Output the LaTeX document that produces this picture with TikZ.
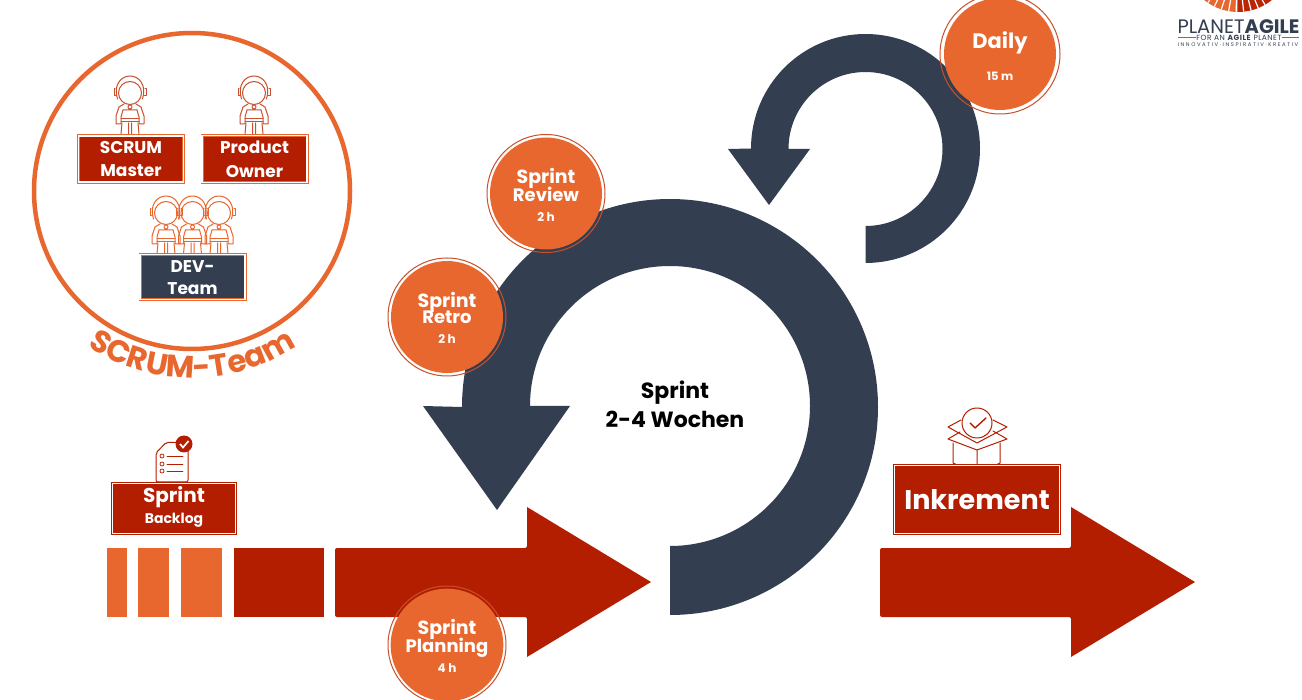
\documentclass[tikz,border=0pt]{standalone}
\usepackage{fontspec}
\setmainfont{Poppins}
\usepackage{xcolor}
\usetikzlibrary{decorations.text, shapes.geometric}
\definecolor{navy}{HTML}{333F50}
\definecolor{sunset}{HTML}{E8672F}
\definecolor{rust}{HTML}{B41E00}
\definecolor{clay}{HTML}{C9502F}
\newcommand{\fsize}[1]{\fontsize{#1}{#1}\selectfont\bfseries}
\newcommand{\lift}[1]{\rule{0pt}{#1pt}}
\tikzstyle{ceremony} = [circle, minimum size=112pt, inner sep=0pt, fill=sunset, text=white, text centered]
\tikzstyle{ceremonyring} = [draw=clay, line width=1pt]
\tikzstyle{rolebox} = [rectangle, minimum width=105pt, minimum height=43pt, inner sep=0pt, draw=sunset, double=white, double distance=1.2pt, line width=0.9pt, fill=rust, text=white, text centered]
\tikzstyle{chevron} = [fill=rust, rounded corners=2pt]
\tikzstyle{iconline} = [draw=rust, line width=1pt, line join=round, line cap=round]
\tikzset{astronaut/.pic={
  \draw (0,0) circle (11.5);
  \draw (-12.5,6) .. controls (-17,-8) and (-9,-17) .. (0,-17) .. controls (9,-17) and (17,-8) .. (12.5,6);
  \draw (-15,-4) -- (-16,-4) -- (-16,3) -- (-14,3);
  \draw (15,-4) -- (16,-4) -- (16,3) -- (14,3);
  \draw (-6,11) -- (-11,14) -- (-14,23) -- (-14,31) -- (-9,31) -- (-9,24) -- (-7,17);
  \draw (6,11) -- (11,14) -- (14,23) -- (14,31) -- (9,31) -- (9,24) -- (7,17);
  \draw (-9,26) -- (9,26) (-9,29) -- (9,29);
  \draw (-7,17) -- (7,17) (0,14) circle (2);
  \draw (-8,30) -- (-9,41) (8,30) -- (9,41) (-1.5,30) -- (-1.5,41) (1.5,30) -- (1.5,41);
}}
\begin{document}
\begin{tikzpicture}[x=1pt, y=1pt, yscale=-1]

\clip (0,0) rectangle (1302,700);
\fill[white] (0,0) rectangle (1302,700);

% sprint cycle
\fill[navy] (670,615) arc (90:-180:208) -- (423,406) -- (497,510) -- (570,406) -- (530,406) arc (-180:90:140) -- cycle;
\fill[navy] (865.5,263) arc (90:-180:114.5) -- (728,149) -- (769,205) -- (810,149) -- (788.5,149) arc (-180:90:77) -- cycle;
\node at (675,404) (sprint) [text=black, align=center, font=\fsize{22}, inner sep=0pt] {Sprint\\[6pt]2-4 Wochen};

% arrows
\fill[chevron] (335,548) -- (527,548) [sharp corners] -- (527,507) -- (651,582) -- (527,657) [rounded corners=2pt] -- (527,617) -- (335,617) -- cycle;
\fill[chevron] (880,548) -- (1071,548) [sharp corners] -- (1071,507) -- (1195,582) -- (1071,657) [rounded corners=2pt] -- (1071,617) -- (880,617) -- cycle;

\fill[sunset] (107,548) rectangle (127,617);
\fill[sunset] (138,548) rectangle (169,617);
\fill[sunset] (181,548) rectangle (222,617);
\fill[rust] (234,548) rectangle (324,617);

% ceremonies
\node at (546,193.5) (review) [ceremony] {\begin{tabular}{c} \lift{21}\fsize{19}Sprint \\[-1pt] \fsize{18}Review \\[7pt] \fsize{12}2 h \end{tabular}};
\node at (447,317) (retro) [ceremony] {\begin{tabular}{c} \lift{20}\fsize{19}Sprint \\[-1pt] \fsize{18}Retro \\[7pt] \fsize{12}2 h \end{tabular}};
\node at (447,645) (planning) [ceremony] {\begin{tabular}{c} \lift{20}\fsize{19}Sprint \\[-1pt] \fsize{18}Planning \\[7pt] \fsize{12}4 h \end{tabular}};
\node at (1000,54) (daily) [ceremony] {\begin{tabular}{c} \lift{24}\fsize{21}Daily \\[20pt] \fsize{11.5}15 m \end{tabular}};
\draw[ceremonyring] (review.center) circle (59);
\draw[ceremonyring] (retro.center) circle (59);
\draw[ceremonyring] (planning.center) circle (59);
\draw[ceremonyring] (daily.center) circle (60);

% team
\draw[sunset, line width=4.5pt] (192,191) circle (158);
\path[decorate, decoration={text along path, text align=center, text={|\fsize{31}\color{sunset}|SCRUM-Team}}] (192,191) ++(146:187) arc (146:34:187);

\pic[iconline, draw=clay, transform shape] at (130,93) {astronaut};
\pic[iconline, draw=clay, transform shape] at (254,93) {astronaut};
\pic[iconline, draw=sunset, transform shape] at (166,213) {astronaut};
\pic[iconline, draw=sunset, transform shape] at (192.5,213) {astronaut};
\pic[iconline, draw=sunset, transform shape] at (219,213) {astronaut};

\node at (131,159) (master) [rolebox, font=\fsize{17}] {\begin{tabular}{c} \lift{18}SCRUM \\[6pt] Master \end{tabular}};
\node at (254.5,159) (owner) [rolebox, font=\fsize{17}] {\begin{tabular}{c} \lift{18}Product \\[6pt] Owner \end{tabular}};
\node at (192.5,277) (dev) [rolebox, fill=navy, font=\fsize{17}] {\begin{tabular}{c} \lift{18}DEV- \\[5pt] Team \end{tabular}};

% backlog
\draw[iconline, fill=white] (156,482) [rounded corners=2pt] -- (156,453) -- (166,442.5) -- (188,442.5) -- (188,482) -- cycle;
\foreach \y in {456,464,471} {
  \draw[iconline, line width=0.7pt] (162,\y) circle (2);
  \draw[iconline, line width=0.7pt] (167,\y) -- (183,\y);
}
\fill[rust] (184,444) circle (8.5);
\draw[white, line width=1.7pt] (180,444) -- (183,447.5) -- (188.5,441);
\node at (174,508.5) (backlog) [rolebox, draw=rust, minimum width=123pt, minimum height=50pt] {\begin{tabular}{c} \fsize{20}Sprint \\[7pt] \fsize{14}Backlog \\[4pt] \end{tabular}};

% increment
\draw[iconline] (953,443) -- (953,463) -- (964,468) (1000,443) -- (1000,463) -- (990,468) (977,450) -- (977,468);
\draw[iconline] (948,439) -- (977,450) -- (1007,439) -- (993,431) (948,439) -- (960,432) (948,427) -- (961,420) (948,427) -- (977,443) -- (1007,427) (1007,427) -- (993,420);
\draw[iconline, fill=white] (977,423) circle (15);
\draw[iconline, line width=1.4pt] (970,423) -- (975,428) -- (986,418);
\node at (977,499.5) (inkrement) [rolebox, draw=rust, minimum width=165pt, minimum height=68pt, font=\fsize{27}] {Inkrement};

% logo
\begin{scope}
\clip (1238,-42) circle (54);
\fill[sunset] (1184,-10) rectangle (1238,20);
\fill[rust!90!sunset] (1238,-10) rectangle (1292,20);
\foreach \a in {60,68,...,124} {
  \draw[white, line width=1.2pt] (1238,-42) -- +(\a:70);
}
\end{scope}
\node at (1238.5,27) (planetagile) [text=navy, inner sep=0pt, font=\fontsize{19.5}{20}\selectfont] {PLANET\textbf{AGILE}};
\node at (1239,37.5) (planetsub) [text=navy, inner sep=0pt, font=\fontsize{7.5}{8}\selectfont\addfontfeature{LetterSpace=6}] {FOR AN \textbf{AGILE} PLANET};
\node at (1238,45) (planetclaim) [text=navy, inner sep=0pt, font=\fontsize{5.3}{6}\selectfont\addfontfeature{LetterSpace=30}] {INNOVATIV·INSPIRATIV·KREATIV};
\draw[clay, line width=0.7pt] (1178,37.5) -- (planetsub.west);
\draw[clay, line width=0.7pt] (planetsub.east) -- (1299,37.5);

\end{tikzpicture}
\end{document}
